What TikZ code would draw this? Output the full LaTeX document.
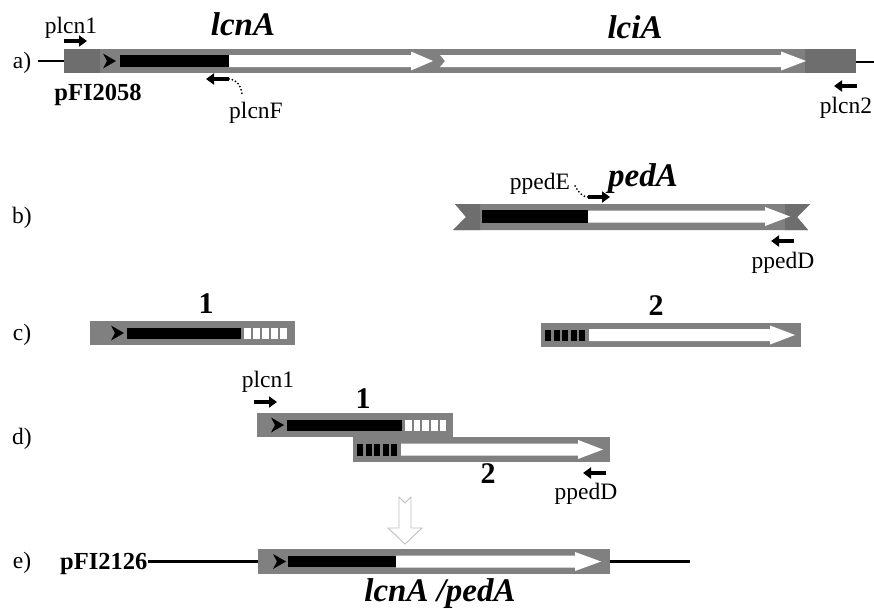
\documentclass[tikz,border=0pt]{standalone}
\usepackage{fontspec}
\setmainfont{Liberation Serif}
\usetikzlibrary{arrows.meta}
\newcommand\wArr[4]{\fill[white] (#1,#3-6) -- (#2-#4,#3-6) -- (#2-#4,#3-9.5) -- (#2,#3) -- (#2-#4,#3+9.5) -- (#2-#4,#3+6) -- (#1,#3+6) -- cycle;}
\newcommand\mrk[2]{\fill (#1,#2-7.5) -- (#1+13,#2) -- (#1,#2+7.5) -- (#1+4,#2) -- cycle;}
\tikzset{
  barfill/.style={fill=black!50},
  barend/.style={fill=black!57},
  txt/.style={font=\fontsize{23.5}{26}\selectfont, inner sep=0pt, anchor=base},
  gene/.style={font=\bfseries\itshape\fontsize{33}{36}\selectfont, inner sep=0pt, anchor=base},
  num/.style={font=\bfseries\fontsize{30}{33}\selectfont, inner sep=0pt, anchor=base},
  plas/.style={font=\bfseries\fontsize{24.5}{27}\selectfont, inner sep=0pt, anchor=base},
  primer/.style={-{Triangle[length=8pt,width=11pt]}, line width=4pt},
  dots/.style={line width=2pt, line cap=round, dash pattern=on 0pt off 3.5pt},
  dna/.style={line width=2.8pt},
  hollow/.style={draw=black!25, line width=0.9pt, line join=miter},
}
\begin{document}
\begin{tikzpicture}[x=1pt,y=-1pt]
\useasboundingbox (0,0) rectangle (874,608);
% ---------------- row a
\node[txt] (la) at (22,68) {a)};
\coordinate (a0) at (38,61); \coordinate (a1) at (64,61);
\coordinate (a2) at (856,62); \coordinate (a3) at (874,62);
\draw[dna] (a0) -- (a1); \draw[dna] (a2) -- (a3);
\fill[barfill] (64,49) rectangle (856,73);
\fill[barend] (64,49) rectangle (100,73);
\fill[barend] (805,49) rectangle (856,73);
\mrk{103}{61}
\fill (120,55) rectangle (229,67);
\wArr{229}{433}{61}{22}
\fill[white] (440,55) -- (781,55) -- (781,51.5) -- (806,61) -- (781,70.5) -- (781,67) -- (440,67) -- (445,61) -- cycle;
\node[txt] (plcnA) at (71,33) {plcn1};
\coordinate (pa0) at (64,41); \coordinate (pa1) at (87,41);
\draw[primer] (pa0) -- (pa1);
\node[gene] (lcnA) at (243,35) {lcnA};
\node[gene] (lciA) at (635,38) {lciA};
\node[plas] (pFIa) at (98,100) {pFI2058};
\coordinate (pf0) at (229,79); \coordinate (pf1) at (206,79);
\draw[primer] (pf0) -- (pf1);
\draw[dots] (pf0) .. controls (236,79) and (241,85) .. (242,94);
\node[txt] (plcnF) at (256,118) {plcnF};
\coordinate (p20) at (857,86); \coordinate (p21) at (834,86);
\draw[primer] (p20) -- (p21);
\node[txt] (plcn2) at (846,113) {plcn2};
% ---------------- row b
\node[txt] (lb) at (22,223) {b)};
\fill[barfill] (455,204) -- (810,204) -- (797,217) -- (808,230) -- (453,230) -- (466,217) -- cycle;
\fill[barend] (455,204) -- (480,204) -- (480,230) -- (453,230) -- (466,217) -- cycle;
\fill[barend] (785,204) -- (810,204) -- (797,217) -- (808,230) -- (785,230) -- cycle;
\fill (482,210) rectangle (588,223);
\wArr{588}{790}{216.5}{25}
\node[txt] (ppedE) at (540,189) {ppedE};
\node[gene] (pedA) at (643,186) {pedA};
\coordinate (pe0) at (588,197); \coordinate (pe1) at (610,197);
\draw[primer] (pe0) -- (pe1);
\draw[dots] (575,186) .. controls (579,193) and (583,197) .. (pe0);
\coordinate (pd0) at (794,241); \coordinate (pd1) at (771,241);
\draw[primer] (pd0) -- (pd1);
\node[txt] (ppedDb) at (783,268) {ppedD};
% ---------------- row c
\node[txt] (lc) at (22,340) {c)};
\fill[barfill] (90,321) rectangle (295,345);
\mrk{111}{333}
\fill (127,327.5) rectangle (241,338.5);
\foreach \i in {0,...,4} \fill[white] ({244+9*\i},327.5) rectangle ++(6.5,11);
\node[num] (n1c) at (206,313) {1};
\fill[barfill] (541,323) rectangle (801,347);
\foreach \i in {0,...,4} \fill ({545+8.6*\i},329.5) rectangle ++(6,11);
\wArr{589}{795}{335}{25}
\node[num] (n2c) at (656,315) {2};
% ---------------- row d
\node[txt] (ld) at (22,444) {d)};
\fill[barfill] (257,413) rectangle (453,437);
\mrk{271}{425}
\fill (287,419.5) rectangle (402,431);
\foreach \i in {0,...,4} \fill[white] ({405+8.7*\i},419.5) rectangle ++(6.5,11.5);
\fill[barfill] (353,437) rectangle (610,462);
\foreach \i in {0,...,4} \fill ({357+8.6*\i},444) rectangle ++(6,11.5);
\wArr{401}{603}{449.5}{25}
\node[txt] (plcnd) at (268,387) {plcn1};
\coordinate (pl0) at (254,402); \coordinate (pl1) at (277,402);
\draw[primer] (pl0) -- (pl1);
\node[num] (n1d) at (363,408) {1};
\node[num] (n2d) at (488,483) {2};
\coordinate (pq0) at (606,473); \coordinate (pq1) at (583,473);
\draw[primer] (pq0) -- (pq1);
\node[txt] (ppedDd) at (586,499) {ppedD};
% ---------------- hollow arrow
\draw[hollow] (399,497) -- (405,503) -- (411,497) -- (411,528) -- (422,528) -- (405,544) -- (388,528) -- (399,528) -- cycle;
% ---------------- row e
\node[txt] (le) at (22,568) {e)};
\node[plas, anchor=base west] (pFIe) at (60,569) {pFI2126};
\coordinate (e1) at (258,561.5); \coordinate (e2) at (610,561.5); \coordinate (e3) at (690,561.5);
\draw[dna] (pFIe.east |- e1) -- (e1); \draw[dna] (e2) -- (e3);
\fill[barfill] (258,549) rectangle (610,574);
\mrk{273}{561.5}
\fill (288,555.5) rectangle (396,567);
\wArr{396}{601}{561.5}{26}
\node[gene] (fus) at (440,601) {lcnA /pedA};
\end{tikzpicture}
\end{document}
